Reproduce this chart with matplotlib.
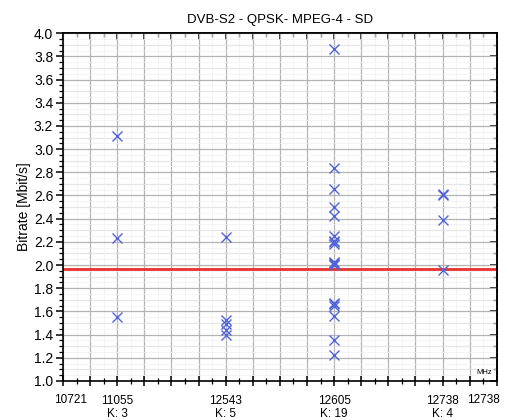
import numpy as np
import matplotlib
matplotlib.use("Agg")
import matplotlib.pyplot as plt
from matplotlib.ticker import MultipleLocator
import matplotlib.transforms as mtransforms

plt.rcParams['font.family'] = ['Liberation Sans', 'DejaVu Sans']

title = "DVB-S2 - QPSK- MPEG-4 - SD"
ylabel = "Bitrate [Mbit/s]"

# category positions on the (index) x axis
freq_labels = ["11055", "12543", "12605", "12738"]
k_labels = ["K: 3", "K: 5", "K: 19", "K: 4"]
freq_pos = [2, 6, 10, 14]
edge_labels = ["10721", "12738"]
edge_pos = [0.27, 15.5]

bitrates_11055 = [3.11, 2.23, 1.55]
bitrates_12543 = [2.24, 1.53, 1.49, 1.44, 1.40]
bitrates_12605 = [3.86, 2.84, 2.66, 2.50, 2.42, 2.25, 2.21, 2.20, 2.18,
                  2.03, 2.02, 2.01, 2.00, 1.67, 1.66, 1.65, 1.56, 1.35, 1.22]
bitrates_12738 = [2.61, 2.60, 2.39, 1.96]
series = [bitrates_11055, bitrates_12543, bitrates_12605, bitrates_12738]

threshold = 1.965

fig = plt.figure(figsize=(5.08, 4.2), dpi=100)
ax = fig.add_axes([0.124, 0.093, 0.854, 0.828])

ax.set_xlim(0, 16)
ax.set_ylim(1.0, 4.0)

# grids
ax.xaxis.set_major_locator(MultipleLocator(1))
ax.xaxis.set_minor_locator(MultipleLocator(0.5))
ax.yaxis.set_major_locator(MultipleLocator(0.2))
ax.yaxis.set_minor_locator(MultipleLocator(0.05))
ax.grid(True, which='major', color='#b4b4b4', lw=0.9, zorder=0)
ax.grid(True, which='minor', color='#f0f0f0', lw=0.5, zorder=0)
ax.hlines(np.arange(1.1, 4.0, 0.2), 0, 16, color='#cccccc', lw=0.8, zorder=0)
ax.set_axisbelow(True)

for xp, vals in zip(freq_pos, series):
    ax.plot([xp] * len(vals), vals, linestyle='none', marker='x',
            markersize=6.5, mew=1.0, color='#5064dc', zorder=3)

ax.axhline(threshold, color='#e8302e', lw=2.0, zorder=2)

ax.set_xticklabels([])
ax.tick_params(axis='x', which='major', direction='inout', length=7, width=1.1, top=False)
ax.tick_params(axis='x', which='minor', direction='inout', length=4, width=0.9, top=False)
ax.tick_params(axis='y', which='major', direction='out', length=5, width=1.1, labelsize=10, pad=2)
ax.tick_params(axis='y', which='minor', direction='out', length=3, width=0.9)
ax.yaxis.set_major_formatter(matplotlib.ticker.FormatStrFormatter('%.1f'))

# top / right inward ticks
secx = ax.secondary_xaxis('top')
secx.xaxis.set_major_locator(MultipleLocator(1))
secx.xaxis.set_minor_locator(MultipleLocator(0.5))
secx.tick_params(which='major', direction='in', length=5, width=1.1, labeltop=False)
secx.tick_params(which='minor', direction='in', length=3, width=0.9)
secx.set_xticklabels([])
secy = ax.secondary_yaxis('right')
secy.yaxis.set_major_locator(MultipleLocator(0.2))
secy.yaxis.set_minor_locator(MultipleLocator(0.1))
secy.tick_params(which='major', direction='in', length=5, width=1.1, labelright=False)
secy.tick_params(which='minor', direction='in', length=3, width=0.9)
secy.set_yticklabels([])

for sp in list(ax.spines.values()) + [secx.spines['top'], secy.spines['right']]:
    sp.set_linewidth(1.2)
    sp.set_color('black')

trans = mtransforms.blended_transform_factory(ax.transData, ax.transAxes)
for xp, lab, kl in zip(freq_pos, freq_labels, k_labels):
    ax.text(xp, 0, lab, transform=trans + mtransforms.ScaledTranslation(0, -14.5 / 72, fig.dpi_scale_trans),
            ha='center', va='center', fontsize=8.5)
    ax.text(xp, 0, kl, transform=trans + mtransforms.ScaledTranslation(0, -23.5 / 72, fig.dpi_scale_trans),
            ha='center', va='center', fontsize=8.5)
for xp, lab in zip(edge_pos, edge_labels):
    ax.text(xp, 0, lab, transform=trans + mtransforms.ScaledTranslation(0, -13.5 / 72, fig.dpi_scale_trans),
            ha='center', va='center', fontsize=8.5)

ax.text(0.99, 0.015, "MHz", transform=ax.transAxes, ha='right', va='bottom', fontsize=5.5,
        bbox=dict(facecolor='white', edgecolor='none', pad=0.5))

ax.set_title(title, fontsize=9.5, pad=7)
ax.set_ylabel(ylabel, fontsize=10, labelpad=2)

fig.savefig("out.png", dpi=100, facecolor='white')
